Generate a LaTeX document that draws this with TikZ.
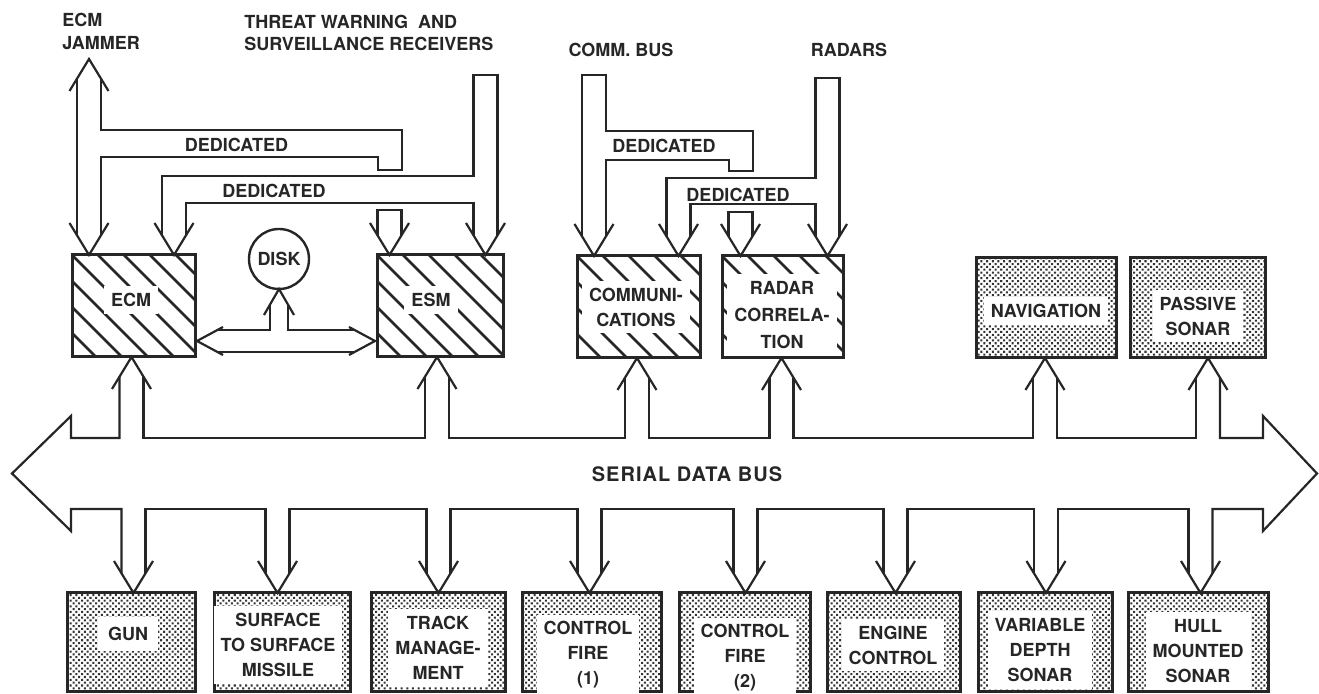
\documentclass[tikz,border=0pt]{standalone}
\usepackage{fontspec}
\setmainfont{TeX Gyre Heros}
\usetikzlibrary{calc,patterns.meta}
\tikzdeclarepattern{
  name=stipple,
  type=uncolored,
  bounding box={(-1pt,-1pt) and (1pt,1pt)},
  tile size={(2pt,2pt)},
  tile transformation={rotate=45},
  code={\pgfpathcircle{\pgfpointorigin}{0.72pt}\pgfusepath{fill}}
}
\newcommand{\hdown}[1]{\draw[arr] ($(#1)+(-19.5,-32)$) -- (#1) -- ($(#1)+(19.5,-32)$);}
\newcommand{\hup}[1]{\draw[arr] ($(#1)+(-19.5,32)$) -- (#1) -- ($(#1)+(19.5,32)$);}
\newcommand{\hatchbox}[1]{%
  \begin{scope}
    \clip (#1.south west) rectangle (#1.north east);
    \foreach \k in {-104,-78,...,130}
      \draw[hatchln] ($(#1.north west)+(\k,0)$) -- ++(140,140);
  \end{scope}}
\begin{document}
\begin{tikzpicture}[x=0.5pt,y=-0.5pt,
  arr/.style={draw=black!85, line width=1.1pt, line join=miter},
  hatchln/.style={draw=black!85, line width=1.35pt},
  hbox/.style={draw=black!85, line width=1.5pt, inner sep=0pt, outer sep=0pt, minimum height=51pt},
  dbox/.style={draw=black!85, line width=1.5pt, inner sep=0pt, outer sep=0pt, pattern=stipple, pattern color=black!80},
  lbl/.style={font=\fontsize{9}{12.5}\selectfont\bfseries, text=black!85, align=center, inner sep=1pt},
  blbl/.style={lbl, fill=white, inner sep=3.5pt},
  circ/.style={draw=black!85, line width=1.2pt, circle, minimum size=30pt, inner sep=0pt, outer sep=0pt, font=\fontsize{9}{11}\selectfont\bfseries, text=black!85}
]
\useasboundingbox (0,0) rectangle (1319,694);

% ---------- top labels ----------
\node[lbl, align=left, anchor=west, font=\fontsize{9}{11.5}\selectfont\bfseries] (tjam) at (60,31) {ECM\\JAMMER};
\node[lbl, align=left, anchor=west, font=\fontsize{9}{11}\selectfont\bfseries] (tthr) at (242,33) {THREAT WARNING\ \ AND\\SURVEILLANCE RECEIVERS};
\node[lbl] (tcomm) at (621,50) {COMM. BUS};
\node[lbl] (trad) at (849,50) {RADARS};

% ---------- hatched boxes ----------
\node[hbox, minimum width=61.5pt] (ecm) at (133.5,306) {};
\hatchbox{ecm}
\node[blbl] at (131,300) {ECM};
\node[hbox, minimum width=63pt] (esm) at (440,306) {};
\hatchbox{esm}
\node[blbl] at (431,300) {ESM};
\node[hbox, minimum width=61.5pt] (comm) at (638.5,307) {};
\hatchbox{comm}
\node[blbl] at (636,307) {COMMUNI-\\CATIONS};
\node[hbox, minimum width=60.5pt] (radar) at (782.5,307) {};
\hatchbox{radar}
\node[blbl, font=\fontsize{9}{13.5}\selectfont\bfseries] at (782,315) {RADAR\\CORRELA-\\TION};

% ---------- dotted boxes ----------
\node[dbox, minimum width=70pt, minimum height=50pt] (nav) at (1046,308) {};
\node[blbl] at (1046,311) {NAVIGATION};
\node[dbox, minimum width=67.5pt, minimum height=50pt] (pas) at (1197.5,308) {};
\node[blbl] at (1198,316) {PASSIVE\\SONAR};

\node[dbox, minimum width=64pt, minimum height=49.5pt] (gun) at (131,642.5) {};
\node[blbl, inner sep=5pt] at (128,634) {GUN};
\node[dbox, minimum width=68pt, minimum height=49.5pt] (ssm) at (282,642.5) {};
\node[blbl] at (278,645) {SURFACE\\TO SURFACE\\MISSILE};
\node[dbox, minimum width=67pt, minimum height=49.5pt] (trk) at (438,642.5) {};
\node[blbl] at (438,648) {TRACK\\MANAGE-\\MENT};
\node[dbox, minimum width=69.5pt, minimum height=49.5pt] (cf1) at (591.5,642.5) {};
\node[blbl] at (588,655) {CONTROL\\FIRE\\(1)};
\node[dbox, minimum width=65.5pt, minimum height=49.5pt] (cf2) at (744.5,642.5) {};
\node[blbl] at (745,658) {CONTROL\\FIRE\\(2)};
\node[dbox, minimum width=66.5pt, minimum height=49.5pt] (eng) at (893.5,642.5) {};
\node[blbl] at (893,645) {ENGINE\\CONTROL};
\node[dbox, minimum width=67pt, minimum height=49.5pt] (vds) at (1045,642.5) {};
\node[blbl] at (1040,650) {VARIABLE\\DEPTH\\SONAR};
\node[dbox, minimum width=70pt, minimum height=49.5pt] (hms) at (1198,642.5) {};
\node[blbl] at (1198,651) {HULL\\MOUNTED\\SONAR};

% ---------- disk ----------
\node[circ] (disk) at (279,259) {DISK};

% ---------- apex coordinates ----------
\coordinate (jam) at (89,59);
\coordinate (a1) at (89,0 |- ecm.north);
\coordinate (a2) at (174,0 |- ecm.north);
\coordinate (a3) at (389.5,0 |- esm.north);
\coordinate (a4) at (485.5,0 |- esm.north);
\coordinate (a5) at (594,0 |- comm.north);
\coordinate (a6) at (678.5,0 |- comm.north);
\coordinate (a7) at (740.5,0 |- radar.north);
\coordinate (a8) at (827.5,0 |- radar.north);

\coordinate (u1) at (131.5,0 |- ecm.south);
\coordinate (u2) at (437,0 |- esm.south);
\coordinate (u3) at (637,0 |- comm.south);
\coordinate (u4) at (781.5,0 |- radar.south);
\coordinate (u5) at (1045,0 |- nav.south);
\coordinate (u6) at (1208,0 |- pas.south);

\coordinate (d1) at (133.5,0 |- gun.north);
\coordinate (d2) at (277.5,0 |- ssm.north);
\coordinate (d3) at (438.5,0 |- trk.north);
\coordinate (d4) at (589.5,0 |- cf1.north);
\coordinate (d5) at (745.5,0 |- cf2.north);
\coordinate (d6) at (895.5,0 |- eng.north);
\coordinate (d7) at (1046,0 |- vds.north);
\coordinate (d8) at (1200.5,0 |- hms.north);

\coordinate (dk) at (disk.south);
\coordinate (hl) at (197,341);
\coordinate (hr) at (375,341);

% ---------- heads ----------
\hup{jam}
\foreach \p in {a1,a2,a3,a4,a5,a6,a7,a8,d1,d2,d3,d4,d5,d6,d7,d8} {\hdown{\p}}
\foreach \p in {u1,u2,u3,u4,u5,u6} {\hup{\p}}

% ---------- ECM jammer + dedicated ----------
\draw[arr] ($(jam)+(-12,19.7)$) -- ($(a1)+(-12,-19.7)$);
\draw[arr] ($(jam)+(12,19.7)$) -- (101,130) -- (402,130) -- (402,170) -- (378,170) -- (378,157) -- (101,157) -- ($(a1)+(12,-19.7)$);
\node[lbl] at (236.5,145) {DEDICATED};

% ---------- threat warning ----------
\draw[arr] ($(a4)+(12,-19.7)$) -- (497.5,75) -- (473.5,75) -- (473.5,176) -- (162,176) -- ($(a2)+(-12,-19.7)$);
\draw[arr] ($(a2)+(12,-19.7)$) -- (186,203) -- (473.5,203) -- ($(a4)+(-12,-19.7)$);
\node[lbl] at (274,191) {DEDICATED};
\draw[arr] ($(a3)+(-12,-19.7)$) -- (377.5,210) -- (401.5,210) -- ($(a3)+(12,-19.7)$);

% ---------- comm bus ----------
\draw[arr] ($(a5)+(-12,-19.7)$) -- (582,75) -- (606,75) -- (606,131) -- (753,131) -- (753,171) -- (729,171) -- (729,160) -- (606,160) -- ($(a5)+(12,-19.7)$);
\node[lbl] at (664,146) {DEDICATED};

% ---------- radars ----------
\draw[arr] ($(a8)+(12,-19.7)$) -- (839.5,78) -- (815.5,78) -- (815.5,178) -- (666.5,178) -- ($(a6)+(-12,-19.7)$);
\draw[arr] ($(a6)+(12,-19.7)$) -- (690.5,204) -- (815.5,204) -- ($(a8)+(-12,-19.7)$);
\node[lbl] at (738,195) {DEDICATED};
\draw[arr] ($(a7)+(-12,-19.7)$) -- (728.5,212) -- (752.5,212) -- ($(a7)+(12,-19.7)$);

% ---------- disk link ----------
\draw[arr] ($(dk)+(-15,26)$) -- (dk) -- ($(dk)+(15,26)$);
\draw[arr] ($(hl)+(26,-14)$) -- (hl) -- ($(hl)+(26,14)$);
\draw[arr] ($(hr)+(-26,-14)$) -- (hr) -- ($(hr)+(-26,14)$);
\draw[arr] ($(hl)+(20.4,-11)$) -- (270,330) -- ($(dk)+(-9,15.6)$);
\draw[arr] ($(dk)+(9,15.6)$) -- (288,330) -- ($(hr)+(-20.4,-11)$);
\draw[arr] ($(hl)+(20.4,11)$) -- ($(hr)+(-20.4,11)$);

% ---------- serial data bus ----------
\draw[arr] ($(u1)+(-12,19.7)$) -- (119.5,438) -- (71,438) -- (71,416) -- (12,473.5) -- (71,531) -- (71,509) -- (121.5,509) -- ($(d1)+(-12,-19.7)$);
\draw[arr] ($(u1)+(12,19.7)$) -- (143.5,438) -- (425,438) -- ($(u2)+(-12,19.7)$);
\draw[arr] ($(u2)+(12,19.7)$) -- (449,438) -- (625,438) -- ($(u3)+(-12,19.7)$);
\draw[arr] ($(u3)+(12,19.7)$) -- (649,438) -- (769.5,438) -- ($(u4)+(-12,19.7)$);
\draw[arr] ($(u4)+(12,19.7)$) -- (793.5,438) -- (1033,438) -- ($(u5)+(-12,19.7)$);
\draw[arr] ($(u5)+(12,19.7)$) -- (1057,438) -- (1196,438) -- ($(u6)+(-12,19.7)$);
\draw[arr] ($(u6)+(12,19.7)$) -- (1220,438) -- (1263,438) -- (1263,416) -- (1317,473.5) -- (1263,531) -- (1263,509) -- (1212.5,509) -- ($(d8)+(12,-19.7)$);
\draw[arr] ($(d1)+(12,-19.7)$) -- (145.5,509) -- (265.5,509) -- ($(d2)+(-12,-19.7)$);
\draw[arr] ($(d2)+(12,-19.7)$) -- (289.5,509) -- (426.5,509) -- ($(d3)+(-12,-19.7)$);
\draw[arr] ($(d3)+(12,-19.7)$) -- (450.5,509) -- (577.5,509) -- ($(d4)+(-12,-19.7)$);
\draw[arr] ($(d4)+(12,-19.7)$) -- (601.5,509) -- (733.5,509) -- ($(d5)+(-12,-19.7)$);
\draw[arr] ($(d5)+(12,-19.7)$) -- (757.5,509) -- (883.5,509) -- ($(d6)+(-12,-19.7)$);
\draw[arr] ($(d6)+(12,-19.7)$) -- (907.5,509) -- (1034,509) -- ($(d7)+(-12,-19.7)$);
\draw[arr] ($(d7)+(12,-19.7)$) -- (1058,509) -- (1188.5,509) -- ($(d8)+(-12,-19.7)$);
\node[lbl, font=\fontsize{10}{12}\selectfont\bfseries\addfontfeature{LetterSpace=5}] at (687,474) {SERIAL DATA BUS};
\end{tikzpicture}
\end{document}
